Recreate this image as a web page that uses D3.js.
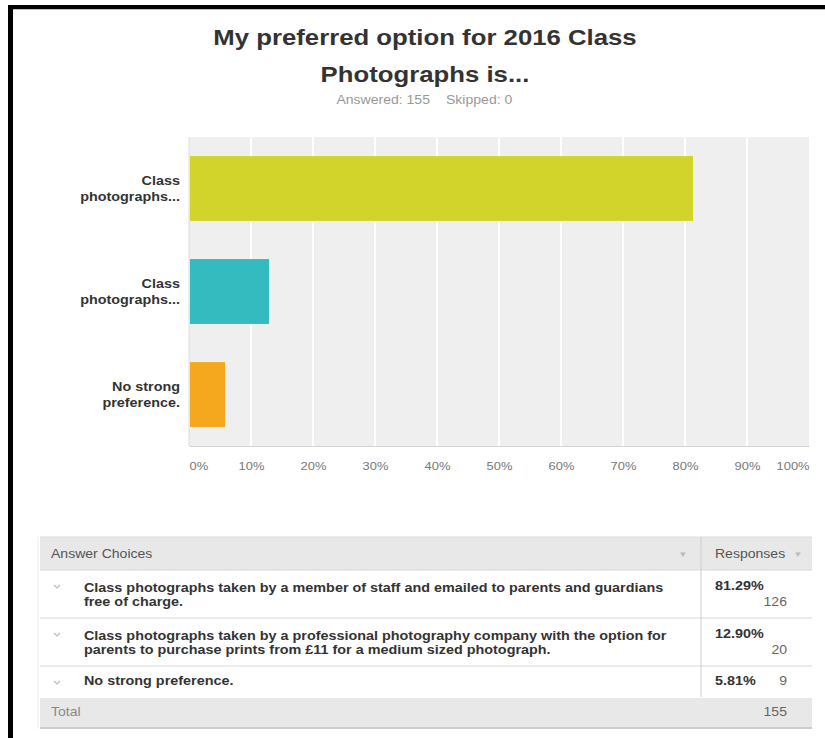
<!DOCTYPE html>
<html lang="en">
<head>
<meta charset="utf-8">
<title>2016 Class Photographs</title>
<script src="https://cdn.jsdelivr.net/npm/d3@7/dist/d3.min.js"></script>
<style>
body { margin: 0; background: #fff; }
svg { display: block; }
svg text { font-family: Arial, "Liberation Sans", Helvetica, sans-serif; }
</style>
</head>
<body>
<script>
var width = 825, height = 738;
var k = 1.17;   // the screenshot is stretched sideways, so is the text

// chart data
var shortLabels = [["Class", "photographs..."], ["Class", "photographs..."], ["No strong", "preference."]];
var answerLines = [
    ["Class photographs taken by a member of staff and emailed to parents and guardians", "free of charge."],
    ["Class photographs taken by a professional photography company with the option for", "parents to purchase prints from £11 for a medium sized photograph."],
    ["No strong preference."]
];
var percents = [81.29, 12.90, 5.81];
var counts = [126, 20, 9];
var barColors = ["#d3d42b", "#34bbc0", "#f5a81e"];
var xTicks = [0, 10, 20, 30, 40, 50, 60, 70, 80, 90, 100];
var answered = 155, skipped = 0, total = 155;

var svg = d3.select("body").append("svg")
    .attr("width", width).attr("height", height);

// text helper: x is the on-screen anchor, glyphs widened by k
function label(px, py, str, size, color, anchor, bold) {
    return svg.append("text").attr("x", px / k).attr("y", py)
        .attr("transform", "scale(" + k + ",1)")
        .attr("text-anchor", anchor || "start").attr("fill", color)
        .style("font-size", size + "px").style("font-weight", bold ? "bold" : "normal")
        .text(str);
}

// black frame top + left
svg.append("rect").attr("x", 8).attr("y", 5).attr("width", width - 8).attr("height", 4).attr("fill", "#000");
svg.append("rect").attr("x", 8).attr("y", 5).attr("width", 5).attr("height", height - 5).attr("fill", "#000");
svg.append("line").attr("x1", 13).attr("x2", width).attr("y1", 9.5).attr("y2", 9.5).attr("stroke", "#bbb");

// title
label(425, 45, "My preferred option for 2016 Class", 22, "#333", "middle", true);
label(425, 82, "Photographs is...", 22, "#333", "middle", true);
label(430, 104, "Answered: " + answered, 12, "#999", "end");
label(446, 104, "Skipped: " + skipped, 12, "#999");

// scales
var x = d3.scaleLinear().domain([0, 100]).range([189, 809]);
var y = d3.scaleBand().domain(d3.range(percents.length)).range([137, 446])
    .paddingInner(0.37).paddingOuter(0.185);

// plot background and gridlines
svg.append("rect").attr("x", x(0)).attr("y", 137).attr("width", x(100) - x(0)).attr("height", 309).attr("fill", "#efefef");
svg.selectAll(".grid").data(xTicks.slice(1, -1)).enter().append("line")
    .attr("x1", d => x(d)).attr("x2", d => x(d)).attr("y1", 137).attr("y2", 446)
    .attr("stroke", "#fff").attr("stroke-width", 2);
svg.append("line").attr("x1", x(0)).attr("x2", x(0)).attr("y1", 137).attr("y2", 446).attr("stroke", "#ddd");

// bars
svg.selectAll(".bar").data(percents).enter().append("rect")
    .attr("x", x(0) + 1).attr("y", (d, i) => y(i))
    .attr("width", d => x(d) - x(0) - 1).attr("height", y.bandwidth())
    .attr("fill", (d, i) => barColors[i]);

// x axis
var xAxis = svg.append("g").attr("transform", "translate(0,446)")
    .call(d3.axisBottom(x).tickValues(xTicks).tickFormat(d => d + "%").tickSize(0).tickPadding(16));
xAxis.attr("font-family", null);
xAxis.select(".domain").attr("stroke", "#d4d4d4");
xAxis.selectAll("text").attr("fill", "#777").style("font-size", "11px")
    .attr("transform", "scale(" + k + ",1)")
    .attr("text-anchor", d => d === 0 ? "start" : (d === 100 ? "end" : "middle"));

// category labels
shortLabels.forEach(function(lines, i) {
    var cy = y(i) + y.bandwidth() / 2;
    lines.forEach(function(l, j) {
        label(180, cy - 3 + j * 16, l, 12.3, "#333", "end", true);
    });
});

// table
var tx0 = 40, tx1 = 812, tdiv = 701;
var headTop = 537, headH = 33;
svg.append("rect").attr("x", tx0).attr("y", headTop).attr("width", tx1 - tx0).attr("height", headH).attr("fill", "#e8e8e8");
svg.append("line").attr("x1", tx0).attr("x2", tx1).attr("y1", headTop).attr("y2", headTop).attr("stroke", "#ddd");
label(51, 558, "Answer Choices", 12, "#555");
label(715, 558, "Responses", 12, "#555");
label(683, 557, "▼", 8, "#bbb", "middle");
label(798, 557, "▼", 8, "#bbb", "middle");

var rowTop = headTop + headH;
answerLines.forEach(function(lines, i) {
    var two = lines.length > 1;
    var h = two ? 48 : 31;
    svg.append("line").attr("x1", tx0).attr("x2", tx1).attr("y1", rowTop).attr("y2", rowTop).attr("stroke", "#d8d8d8");
    // chevron
    svg.append("path").attr("d", "M54," + (rowTop + 15) + " l3,3 l3,-3")
        .attr("fill", "none").attr("stroke", "#bbb").attr("stroke-width", 1.2);
    lines.forEach(function(l, j) {
        label(84, rowTop + (two ? 22 : 19) + j * 14, l, 12.3, "#333", "start", true);
    });
    label(715, rowTop + (two ? 20 : 19), percents[i].toFixed(2) + "%", 12.3, "#333", "start", true);
    label(787, rowTop + (two ? 36 : 19), counts[i], 12, "#666", "end");
    rowTop += h;
});
svg.append("line").attr("x1", tdiv).attr("x2", tdiv).attr("y1", headTop).attr("y2", rowTop).attr("stroke", "#ccc");

// total row
svg.append("rect").attr("x", tx0).attr("y", rowTop + 1).attr("width", tx1 - tx0).attr("height", 30).attr("fill", "#e8e8e8");
svg.append("line").attr("x1", tx0).attr("x2", tx1).attr("y1", rowTop + 31).attr("y2", rowTop + 31).attr("stroke", "#ccc").attr("stroke-width", 2);
label(51, rowTop + 19, "Total", 12, "#888");
label(787, rowTop + 19, total, 12, "#666", "end");

svg.append("line").attr("x1", tx0 - 2).attr("x2", tx0 - 2).attr("y1", headTop).attr("y2", rowTop + 32).attr("stroke", "#eee");
</script>
</body>
</html>
